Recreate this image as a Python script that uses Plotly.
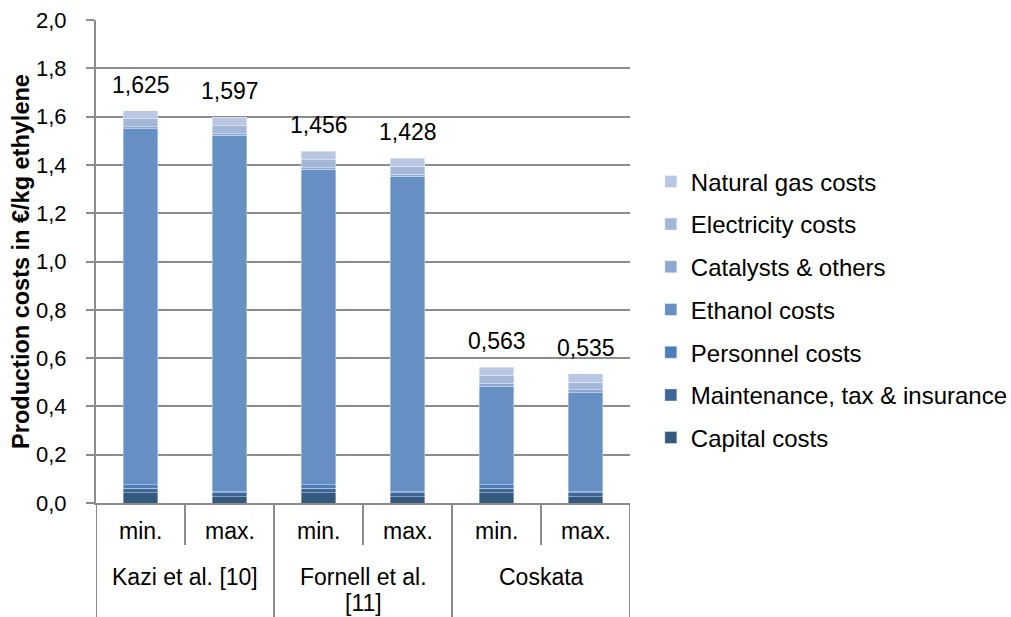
import plotly.graph_objects as go

# Cost breakdown of ethylene production, in EUR per kg ethylene
groups = ["Kazi et al. [10]", "Fornell et al.<br>[11]", "Coskata"]
cases = ["min.", "max.", "min.", "max.", "min.", "max."]

capital = [0.042, 0.025, 0.042, 0.025, 0.042, 0.025]
maintenance = [0.020, 0.017, 0.020, 0.017, 0.020, 0.017]
personnel = [0.013, 0.005, 0.013, 0.005, 0.013, 0.005]
ethanol = [1.475, 1.475, 1.306, 1.306, 0.409, 0.409]
catalysts = [0.008, 0.008, 0.008, 0.008, 0.012, 0.012]
electricity = [0.033, 0.033, 0.033, 0.033, 0.033, 0.033]
natural_gas = [0.034, 0.034, 0.034, 0.034, 0.034, 0.034]

series = [
    ("Capital costs", capital, "#34597F"),
    ("Maintenance, tax & insurance", maintenance, "#3E6699"),
    ("Personnel costs", personnel, "#4D7EBA"),
    ("Ethanol costs", ethanol, "#6690C4"),
    ("Catalysts & others", catalysts, "#8EA7D1"),
    ("Electricity costs", electricity, "#A5B7D9"),
    ("Natural gas costs", natural_gas, "#BAC7E2"),
]

y_ticks = [0.0, 0.2, 0.4, 0.6, 0.8, 1.0, 1.2, 1.4, 1.6, 1.8, 2.0]

FONT = "Liberation Sans, Arial, sans-serif"
GRID = "#8C8C8C"

x = list(range(len(cases)))

fig = go.Figure()
for k, (name, vals, color) in enumerate(series):
    fig.add_trace(go.Bar(
        x=x, y=vals, name=name, width=0.39,
        marker=dict(color=color, line=dict(color="rgba(255,255,255,0.45)", width=0.8)),
        legendgroup=name, legendrank=len(series) - k, hoverinfo="skip",
    ))

# Totals above the stacks
totals = [sum(s[1][i] for s in series) for i in x]
for i, t in zip(x, totals):
    fig.add_annotation(
        x=i, y=t, xref="x", yref="y", yshift=26, showarrow=False,
        text=f"{t:.3f}".replace(".", ","), yanchor="middle",
        font=dict(family=FONT, size=23, color="#000000"),
    )

# Plot area height in pixels, used to place the category table below the axis
plot_h = 483.0

def py(px_below):
    return -px_below / plot_h

# Inner case labels
for i, c in enumerate(cases):
    fig.add_annotation(x=i, y=py(28), xref="x", yref="paper", text=c, showarrow=False,
                       yanchor="middle", font=dict(family=FONT, size=23, color="#000000"))

# Group labels, one annotation per text line
for g_i, g in enumerate(groups):
    for line_i, line in enumerate(g.split("<br>")):
        fig.add_annotation(x=2 * g_i + 0.5, y=py(74 + 26 * line_i), xref="x", yref="paper",
                           text=line, showarrow=False, yanchor="middle",
                           font=dict(family=FONT, size=23, color="#000000"))

# Separators of the category table
for xi in [0.5, 2.5, 4.5]:
    fig.add_shape(type="line", x0=xi, x1=xi, y0=0, y1=py(42), xref="x", yref="paper",
                  line=dict(color=GRID, width=2))
for xi in [-0.5, 1.5, 3.5, 5.5]:
    fig.add_shape(type="line", x0=xi, x1=xi, y0=0, y1=py(114), xref="x", yref="paper",
                  line=dict(color=GRID, width=2))

fig.update_layout(
    width=1011, height=617,
    barmode="stack",
    separators=",.",
    paper_bgcolor="white", plot_bgcolor="white",
    margin=dict(l=96, r=381, t=20, b=114, autoexpand=False),
    font=dict(family=FONT, size=22, color="#000000"),
    legend=dict(
        traceorder="grouped", tracegroupgap=8.5,
        x=1.039, xanchor="left", y=0.4, yanchor="middle",
        font=dict(family=FONT, size=24, color="#000000"),
        itemwidth=30, bgcolor="rgba(0,0,0,0)",
    ),
    xaxis=dict(
        range=[-0.5, 5.5], showticklabels=False, ticks="", showgrid=False,
        zeroline=False, showline=True, linecolor=GRID, linewidth=2,
    ),
    yaxis=dict(
        range=[0, 2.0], tickvals=y_ticks, tickformat=".1f",
        showgrid=True, gridcolor=GRID, gridwidth=2, zeroline=False,
        showline=True, linecolor=GRID, linewidth=2,
        ticks="outside", ticklen=8, tickwidth=2, tickcolor=GRID,
        ticklabelstandoff=15,
        tickfont=dict(family=FONT, size=22, color="#000000"),
        title=dict(text="<b>Production costs in €/kg ethylene</b>", standoff=0,
                   font=dict(family=FONT, size=23.5, color="#000000")),
    ),
)

fig.write_html("out.html")
